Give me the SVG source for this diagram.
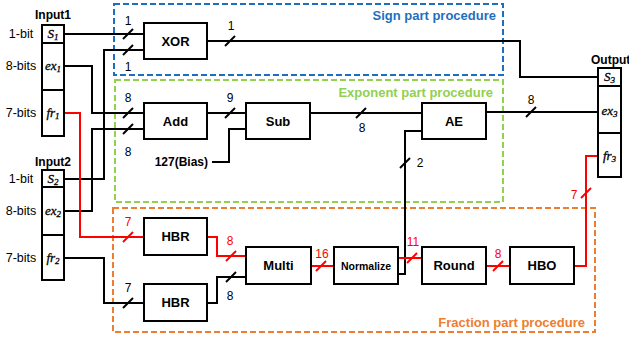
<svg xmlns="http://www.w3.org/2000/svg" xmlns:xlink="http://www.w3.org/1999/xlink" width="629" height="341" viewBox="0 0 629 341">
<style>
.box{fill:#fff;stroke:#000;stroke-width:2}
.w{fill:none;stroke:#000;stroke-width:2}
.r{fill:none;stroke:#ff0000;stroke-width:2}
.bl{font-family:"Liberation Sans",Arial,sans-serif;font-weight:bold;font-size:13px;text-anchor:middle;fill:#000}
.nm{font-family:"Liberation Sans",Arial,sans-serif;font-size:12px;text-anchor:middle;fill:#000}
.rn{font-family:"Liberation Sans",Arial,sans-serif;font-size:12px;text-anchor:middle;fill:#ff0000}
.side{font-family:"Liberation Sans",Arial,sans-serif;font-size:12.5px;text-anchor:middle;fill:#000}
.hd{font-family:"Liberation Sans",Arial,sans-serif;font-weight:bold;font-size:12px;fill:#000}
.cell{font-family:"Liberation Serif","Times New Roman",serif;font-style:italic;font-size:13px;text-anchor:middle;fill:#000;stroke:#000;stroke-width:0.3}
.sub{font-size:9px}
.dash{fill:none;stroke-width:2;stroke-dasharray:6 3}
.ttl{font-family:"Liberation Sans",Arial,sans-serif;font-weight:bold;font-size:13px;text-anchor:end}
</style>
<defs>
<path id="sl" d="M-5,5 L5,-5" stroke="#000" stroke-width="2"/>
<path id="slr" d="M-5,5 L5,-5" stroke="#ff0000" stroke-width="2"/>
</defs>

<g id="regions">
<rect class="dash" x="114" y="4" width="389" height="71" stroke="#1F6FC0"/>
<text class="ttl" x="496" y="20" fill="#1F6FC0">Sign part procedure</text>
<rect class="dash" x="115" y="80" width="388" height="122" stroke="#92D050"/>
<text class="ttl" x="493" y="97" fill="#92D050">Exponent part procedure</text>
<rect class="dash" x="113" y="208" width="482" height="124" stroke="#ED7D31"/>
<text class="ttl" x="585" y="327" fill="#ED7D31">Fraction part procedure</text>
</g>

<g id="connectors">
<polyline class="w" points="64,34 144,34"/>
<polyline class="w" points="64,179 104,179 104,50 144,50"/>
<polyline class="w" points="207,41 520,41 520,77 598,77"/>
<polyline class="w" points="64,66 92,66 92,113 144,113"/>
<polyline class="w" points="64,211 92,211 92,129 144,129"/>
<polyline class="w" points="207,113 246,113"/>
<polyline class="w" points="212,162 229,162 229,129 246,129"/>
<polyline class="w" points="310,113 422,113"/>
<polyline class="w" points="486,112 598,112"/>
<polyline class="w" points="398,274 405,274 405,131 422,131"/>
<polyline class="r" points="64,113 80,113 80,237 144,237"/>
<polyline class="w" points="64,258 104,258 104,303 144,303"/>
<polyline class="r" points="207,237 217,237 217,256 246,256"/>
<polyline class="w" points="207,303 217,303 217,277 246,277"/>
<polyline class="r" points="311,266 334,266"/>
<polyline class="r" points="398,258 422,258"/>
<polyline class="r" points="486,266 510,266"/>
<polyline class="r" points="574,266 586,266 586,156 598,156"/>
<use href="#sl" x="128" y="34"/>
<use href="#sl" x="128" y="50"/>
<use href="#sl" x="230" y="41"/>
<use href="#sl" x="128" y="113"/>
<use href="#sl" x="128" y="129"/>
<use href="#sl" x="230" y="113"/>
<use href="#sl" x="361" y="113"/>
<use href="#sl" x="531" y="112"/>
<use href="#sl" x="405" y="163"/>
<use href="#slr" x="128" y="237"/>
<use href="#sl" x="128" y="303"/>
<use href="#slr" x="231" y="256"/>
<use href="#sl" x="231" y="277"/>
<use href="#slr" x="321" y="266"/>
<use href="#slr" x="412" y="258"/>
<use href="#slr" x="498" y="266"/>
<use href="#slr" x="586" y="193"/>
<text class="nm" x="128" y="25">1</text>
<text class="nm" x="128" y="71">1</text>
<text class="nm" x="231" y="30">1</text>
<text class="nm" x="128" y="102">8</text>
<text class="nm" x="128" y="156">8</text>
<text class="nm" x="230" y="102">9</text>
<text class="nm" x="362" y="132">8</text>
<text class="nm" x="531" y="104">8</text>
<text class="nm" x="420" y="167">2</text>
<text class="rn" x="128" y="226">7</text>
<text class="nm" x="128" y="292">7</text>
<text class="rn" x="230" y="245">8</text>
<text class="nm" x="230" y="300">8</text>
<text class="rn" x="322" y="258">16</text>
<text class="rn" x="413" y="246">11</text>
<text class="rn" x="498" y="258">8</text>
<text class="rn" x="574" y="199">7</text>
<text class="hd" x="208" y="166" text-anchor="end">127(Bias)</text>
</g>

<g id="input1">
<text class="hd" x="53" y="19" text-anchor="middle">Input1</text>
<rect class="box" x="42" y="25" width="22" height="18"/>
<rect class="box" x="42" y="43" width="22" height="47"/>
<rect class="box" x="42" y="90" width="22" height="46"/>
<text class="cell" x="53" y="38">S<tspan class="sub" dy="2">1</tspan></text>
<text class="cell" x="53" y="70">ex<tspan class="sub" dy="2">1</tspan></text>
<text class="cell" x="53" y="117">fr<tspan class="sub" dy="2">1</tspan></text>
<text class="side" x="21" y="38">1-bit</text>
<text class="side" x="21" y="70">8-bits</text>
<text class="side" x="21" y="117">7-bits</text>
</g>

<g id="input2">
<text class="hd" x="53" y="166" text-anchor="middle">Input2</text>
<rect class="box" x="42" y="170" width="22" height="17"/>
<rect class="box" x="42" y="187" width="22" height="48"/>
<rect class="box" x="42" y="235" width="22" height="45"/>
<text class="cell" x="53" y="183">S<tspan class="sub" dy="2">2</tspan></text>
<text class="cell" x="53" y="215">ex<tspan class="sub" dy="2">2</tspan></text>
<text class="cell" x="53" y="262">fr<tspan class="sub" dy="2">2</tspan></text>
<text class="side" x="21" y="183">1-bit</text>
<text class="side" x="21" y="215">8-bits</text>
<text class="side" x="21" y="262">7-bits</text>
</g>

<g id="output">
<text class="hd" x="591" y="64">Output</text>
<rect class="box" x="598" y="68" width="23" height="18"/>
<rect class="box" x="598" y="86" width="23" height="47"/>
<rect class="box" x="598" y="133" width="23" height="44"/>
<text class="cell" x="609.5" y="81">S<tspan class="sub" dy="2">3</tspan></text>
<text class="cell" x="609.5" y="115">ex<tspan class="sub" dy="2">3</tspan></text>
<text class="cell" x="609.5" y="160">fr<tspan class="sub" dy="2">3</tspan></text>
</g>

<g id="xor"><rect class="box" x="144" y="23" width="63" height="36"/><text class="bl" x="175.5" y="46">XOR</text></g>
<g id="add"><rect class="box" x="144" y="103" width="63" height="36"/><text class="bl" x="175.5" y="126">Add</text></g>
<g id="sub"><rect class="box" x="246" y="103" width="64" height="36"/><text class="bl" x="278" y="126">Sub</text></g>
<g id="ae"><rect class="box" x="422" y="103" width="64" height="36"/><text class="bl" x="454" y="126">AE</text></g>
<g id="hbr1"><rect class="box" x="144" y="218" width="63" height="37"/><text class="bl" x="175.5" y="241">HBR</text></g>
<g id="hbr2"><rect class="box" x="144" y="284" width="63" height="37"/><text class="bl" x="175.5" y="307">HBR</text></g>
<g id="multi"><rect class="box" x="246" y="247" width="65" height="37"/><text class="bl" x="278.5" y="270">Multi</text></g>
<g id="normalize"><rect class="box" x="334" y="247" width="64" height="37"/><text class="bl" x="366" y="269.5" style="font-size:10.5px">Normalize</text></g>
<g id="round"><rect class="box" x="422" y="247" width="64" height="37"/><text class="bl" x="454" y="270">Round</text></g>
<g id="hbo"><rect class="box" x="510" y="247" width="64" height="37"/><text class="bl" x="542" y="270">HBO</text></g>
</svg>
